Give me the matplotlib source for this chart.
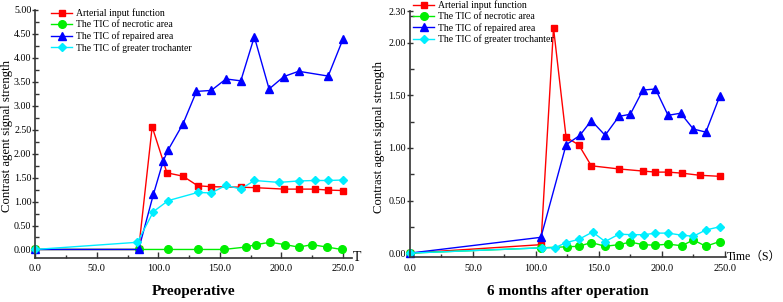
import matplotlib
matplotlib.use("Agg")
import matplotlib.pyplot as plt
from matplotlib.ticker import MultipleLocator, FormatStrFormatter

plt.rcParams['font.family'] = ['Liberation Serif', 'Noto Sans CJK SC']

labels = ['Arterial input function', 'The TIC of necrotic area',
          'The TIC of repaired area', 'The TIC of greater trochanter']

# Preoperative
pre_aif_x = [0, 84, 95, 107, 120, 132, 143, 167, 179, 202, 214, 227, 238, 250]
pre_aif_y = [0, 0, 2.56, 1.60, 1.53, 1.33, 1.31, 1.30, 1.29, 1.26, 1.26, 1.26, 1.24, 1.23]
pre_nec_x = [0, 84, 108, 132, 153, 171, 179, 191, 203, 214, 225, 237, 249]
pre_nec_y = [0, 0, 0, 0, 0, 0.05, 0.10, 0.15, 0.10, 0.05, 0.10, 0.05, 0.0]
pre_rep_x = [0, 84, 96, 104, 108, 120, 131, 143, 155, 167, 178, 190, 202, 214, 238, 250]
pre_rep_y = [0, 0, 1.15, 1.85, 2.08, 2.62, 3.30, 3.32, 3.56, 3.52, 4.44, 3.35, 3.61, 3.72, 3.62, 4.39]
pre_gt_x = [0, 83, 96, 108, 132, 143, 155, 167, 178, 198, 214, 227, 238, 250]
pre_gt_y = [0, 0.15, 0.79, 1.02, 1.19, 1.18, 1.34, 1.26, 1.44, 1.40, 1.43, 1.44, 1.44, 1.45]

# 6 months after operation
post_aif_x = [0, 104, 114, 124, 134, 144, 166, 185, 195, 205, 216, 230, 246]
post_aif_y = [0, 0.08, 2.14, 1.10, 1.03, 0.83, 0.80, 0.78, 0.77, 0.77, 0.76, 0.74, 0.73]
post_nec_x = [0, 104, 125, 134, 144, 155, 166, 175, 185, 195, 205, 216, 225, 235, 246]
post_nec_y = [0, 0.05, 0.06, 0.065, 0.10, 0.065, 0.08, 0.105, 0.08, 0.075, 0.085, 0.07, 0.125, 0.065, 0.11]
post_rep_x = [0, 104, 124, 135, 144, 155, 166, 175, 185, 195, 205, 215, 225, 235, 246]
post_rep_y = [0, 0.15, 1.03, 1.12, 1.26, 1.12, 1.30, 1.32, 1.55, 1.56, 1.31, 1.33, 1.18, 1.15, 1.49]
post_gt_x = [0, 105, 115, 124, 134, 145, 155, 166, 176, 186, 195, 205, 216, 225, 235, 246]
post_gt_y = [0, 0.05, 0.05, 0.10, 0.13, 0.20, 0.11, 0.18, 0.175, 0.175, 0.19, 0.19, 0.17, 0.16, 0.22, 0.25]

colors = ['#ff0000', '#00ee00', '#0000ff', '#00eeff']
markers = ['s', 'o', '^', 'D']
msizes = [5, 5.5, 5.5, 4.5]

fig = plt.figure(figsize=(7.83, 3.02), dpi=100)
ax1 = fig.add_axes([0.045, 0.147, 0.404, 0.820])
ax2 = fig.add_axes([0.5236, 0.148, 0.4036, 0.815])


def draw(ax, series, ylim, ytop_label, xlabel, xlabel_size, title, ylab_x, leg_anchor):
    for (x, y), c, m, ms, lab in zip(series, colors, markers, msizes, labels):
        ax.plot(x, y, color=c, marker=m, markersize=ms, linewidth=1.0, label=lab,
                clip_on=False)
    ax.set_xlim(0, ylim[2])
    ax.set_ylim(ylim[0], ylim[1])
    for s in ['top', 'right']:
        ax.spines[s].set_visible(False)
    for s in ['left', 'bottom']:
        ax.spines[s].set_color('#333333')
        ax.spines[s].set_linewidth(1.2)
    ax.xaxis.set_major_locator(MultipleLocator(50))
    ax.xaxis.set_minor_locator(MultipleLocator(25))
    ax.xaxis.set_major_formatter(FormatStrFormatter('%.1f'))
    ax.yaxis.set_major_locator(MultipleLocator(0.5))
    ax.yaxis.set_minor_locator(MultipleLocator(0.25))
    ax.yaxis.set_major_formatter(FormatStrFormatter('%.2f'))
    ax.tick_params(axis='x', which='major', direction='in', length=4, width=1,
                   labelsize=7.4, pad=4.5, color='#333333')
    ax.tick_params(axis='x', which='minor', direction='in', length=2, width=1,
                   color='#333333')
    ax.tick_params(axis='y', which='major', direction='inout', length=4, width=1,
                   labelsize=7.2, pad=0.8, color='#333333')
    ax.tick_params(axis='y', which='minor', direction='in', length=3, width=1,
                   color='#333333')
    if ytop_label is not None:
        ticks = [t for t in ax.get_yticks() if 0 <= t <= ylim[1]] + [ytop_label]
        ax.set_yticks(ticks)
    ax.set_ylabel('Contrast agent signal strength', fontsize=9.2)
    ax.yaxis.set_label_coords(ylab_x, 0.49)
    ax.text(1.003, 0.0, xlabel, transform=ax.transAxes, fontsize=xlabel_size,
            ha='left', va='center')
    ax.text(0.5, -0.137, title, transform=ax.transAxes, fontsize=11,
            fontweight='bold', ha='center', va='center')
    ax.legend(loc='upper left', bbox_to_anchor=leg_anchor,
              bbox_transform=fig.transFigure, frameon=False,
              fontsize=7, labelspacing=0.2, handlelength=2.2,
              handletextpad=0.35, borderaxespad=0, borderpad=0)


draw(ax1, [(pre_aif_x, pre_aif_y), (pre_nec_x, pre_nec_y),
           (pre_rep_x, pre_rep_y), (pre_gt_x, pre_gt_y)],
     (-0.17, 5.0, 257), None, 'T', 10, 'Preoperative', -0.071, (0.0651, 0.971))
draw(ax2, [(post_aif_x, post_aif_y), (post_nec_x, post_nec_y),
           (post_rep_x, post_rep_y), (post_gt_x, post_gt_y)],
     (-0.04, 2.30, 251), 2.30, 'Time（S）', 8.5, '6 months after operation',
     -0.08, (0.5275, 0.999))

fig.savefig('out.png', dpi=100)
